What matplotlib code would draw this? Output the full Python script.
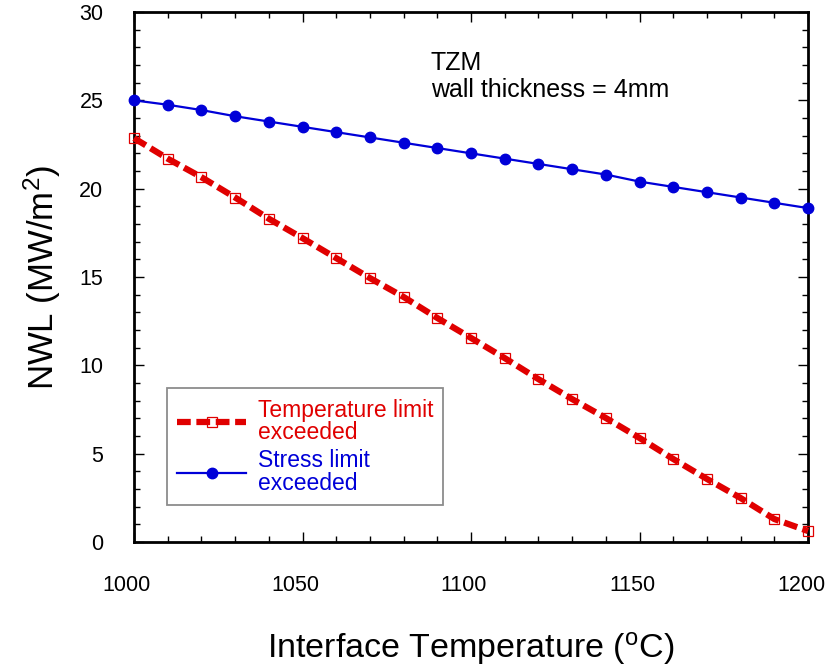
import numpy as np
import matplotlib.pyplot as plt
import matplotlib.transforms as mtransforms
from matplotlib import font_manager
from matplotlib.ticker import MultipleLocator

# interface temperature (C)
temps = [1000, 1010, 1020, 1030, 1040, 1050, 1060, 1070, 1080, 1090, 1100,
         1110, 1120, 1130, 1140, 1150, 1160, 1170, 1180, 1190, 1200]

# NWL where temperature limit is exceeded (MW/m2)
nwl_temp = [22.86, 21.7, 20.65, 19.5, 18.3, 17.2, 16.07, 14.94, 13.87, 12.68, 11.55,
            10.41, 9.22, 8.09, 7.02, 5.89, 4.7, 3.57, 2.49, 1.30, 0.62]

# NWL where stress limit is exceeded (MW/m2)
nwl_stress = [25.0, 24.75, 24.45, 24.1, 23.8, 23.5, 23.2, 22.9, 22.6, 22.3, 22.0,
              21.7, 21.4, 21.1, 20.8, 20.4, 20.1, 19.8, 19.5, 19.2, 18.9]

plt.rcParams["font.family"] = ["Liberation Sans", "DejaVu Sans"]

# tick labels in the original use a condensed face
installed = {f.name for f in font_manager.fontManager.ttflist}
if "Liberation Sans Narrow" in installed:
    tick_font, tick_size = "Liberation Sans Narrow", 19
else:
    tick_font, tick_size = "Liberation Sans", 15.5

fig = plt.figure(figsize=(8.27, 6.70), dpi=100)
ax = fig.add_axes([134 / 827, 1 - 542 / 670, 674 / 827, 530 / 670])

red = "#e00000"
blue = "#0000d8"

ax.plot(temps, nwl_temp, color=red, linewidth=4.5, dashes=(2.2, 0.9),
        marker="s", markersize=7.5, markerfacecolor="none", markeredgecolor=red,
        markeredgewidth=0.9, label="Temperature limit\nexceeded", zorder=3,
        clip_on=False)
ax.plot(temps, nwl_stress, color=blue, linewidth=1.6,
        marker="o", markersize=7.5, markerfacecolor=blue, markeredgecolor=blue,
        label="Stress limit\nexceeded", zorder=3, clip_on=False)

ax.set_xlim(1000, 1200)
ax.set_ylim(0, 30)
ax.xaxis.set_major_locator(MultipleLocator(50))
ax.xaxis.set_minor_locator(MultipleLocator(10))
ax.yaxis.set_major_locator(MultipleLocator(5))
ax.yaxis.set_minor_locator(MultipleLocator(1))

ax.tick_params(which="both", direction="in", top=True, right=True, width=1.0)
ax.tick_params(which="major", length=7)
ax.tick_params(which="minor", length=4)
ax.tick_params(axis="x", which="major", pad=24)
ax.tick_params(axis="y", which="major", pad=22)
for lab in ax.get_xticklabels() + ax.get_yticklabels():
    lab.set_fontfamily(tick_font)
    lab.set_fontsize(tick_size)
# x labels sit slightly left of their ticks in the original
shift = mtransforms.ScaledTranslation(-7 / 100, 0, fig.dpi_scale_trans)
for lab in ax.get_xticklabels():
    lab.set_transform(lab.get_transform() + shift)
for sp in ax.spines.values():
    sp.set_linewidth(2.0)

ax.set_xlabel("Interface Temperature ($\\mathregular{^oC}$)", fontsize=24.5, labelpad=24)
ax.set_ylabel("NWL (MW/m$\\mathregular{^2}$)", fontsize=25, labelpad=12)

ax.text(1088, 25.2, "TZM\nwall thickness = 4mm", fontsize=18,
        linespacing=1.15, va="baseline", ha="left")

leg = ax.legend(loc="lower left", bbox_to_anchor=(0.049, 0.07), borderaxespad=0,
                fontsize=16.5, frameon=True, fancybox=False, edgecolor="#707070",
                handlelength=3.0, handletextpad=0.5, borderpad=0.45,
                labelspacing=0.25)
leg.get_frame().set_linewidth(1.3)
for txt, c in zip(leg.get_texts(), [red, blue]):
    txt.set_color(c)
    txt.set_linespacing(0.95)

fig.savefig("out.png", dpi=100)
